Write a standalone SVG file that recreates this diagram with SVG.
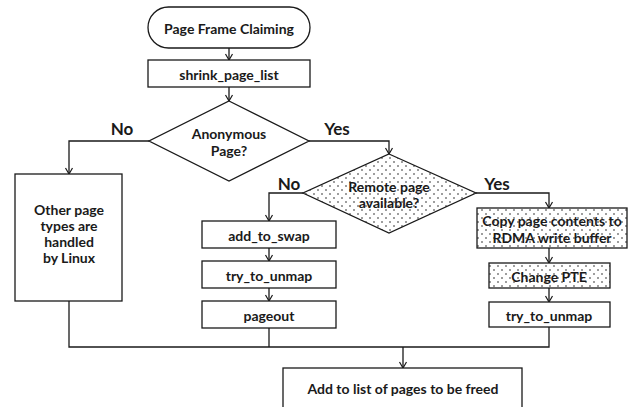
<svg xmlns="http://www.w3.org/2000/svg" width="636" height="407" viewBox="0 0 636 407">
<style>
.box{fill:#fff;stroke:#1a1a1a;stroke-width:1.3}
.dot{fill:url(#dots);stroke:#1a1a1a;stroke-width:1.3}
.t{font-family:Lato,"Open Sans","Liberation Sans",sans-serif;font-weight:bold;font-size:14px;fill:#1a1a1a;text-anchor:middle;dominant-baseline:central}
.lab{font-family:Lato,"Open Sans","Liberation Sans",sans-serif;font-weight:bold;font-size:17px;fill:#1a1a1a;text-anchor:middle;dominant-baseline:central}
.c{fill:none;stroke:#1a1a1a;stroke-width:1.3}
</style>
<defs>
<pattern id="dots" width="8" height="8" patternUnits="userSpaceOnUse">
<rect width="8" height="8" fill="#fff"/>
<circle cx="2" cy="2" r="0.8" fill="#222"/>
<circle cx="6" cy="6" r="0.8" fill="#222"/>
</pattern>
<marker id="arr" markerWidth="10" markerHeight="10" refX="9" refY="5" orient="auto" markerUnits="userSpaceOnUse">
<polyline points="3,1.5 9,5 3,8.5" fill="none" stroke="#1a1a1a" stroke-width="1.2"/>
</marker>
</defs>
<rect width="636" height="407" fill="#fff"/>
<g id="connectors">
<line class="c" x1="229" y1="48" x2="229" y2="60" marker-end="url(#arr)"/>
<line class="c" x1="229" y1="87" x2="229" y2="101" marker-end="url(#arr)"/>
<polyline class="c" points="149,141 69,141 69,174" marker-end="url(#arr)"/>
<polyline class="c" points="309,141 389,141 389,154" marker-end="url(#arr)"/>
<polyline class="c" points="303,193 269,193 269,221" marker-end="url(#arr)"/>
<polyline class="c" points="476,193 549,193 549,208" marker-end="url(#arr)"/>
<line class="c" x1="269" y1="248" x2="269" y2="261" marker-end="url(#arr)"/>
<line class="c" x1="269" y1="288" x2="269" y2="301" marker-end="url(#arr)"/>
<line class="c" x1="549" y1="248" x2="549" y2="263" marker-end="url(#arr)"/>
<line class="c" x1="549" y1="288" x2="549" y2="302" marker-end="url(#arr)"/>
<polyline class="c" points="69,301 69,347 549,347 549,327"/>
<line class="c" x1="269" y1="328" x2="269" y2="347"/>
<line class="c" x1="403" y1="347" x2="403" y2="368" marker-end="url(#arr)"/>
<text class="lab" x="122" y="128">No</text>
<text class="lab" x="337" y="128">Yes</text>
<text class="lab" x="289" y="183">No</text>
<text class="lab" x="497" y="183">Yes</text>
</g>
<g id="start">
<rect class="box" x="148" y="7" width="162" height="41" rx="20.5"/>
<text class="t" x="229" y="28">Page Frame Claiming</text>
</g>
<g id="shrink">
<rect class="box" x="148" y="60" width="162" height="27"/>
<text class="t" x="229" y="74">shrink_page_list</text>
</g>
<g id="anon">
<polygon class="box" points="229,101 309,141 229,181 149,141"/>
<text class="t" x="229" y="133">Anonymous</text>
<text class="t" x="229" y="150">Page?</text>
</g>
<g id="other">
<rect class="box" x="15" y="174" width="107" height="127"/>
<text class="t" x="69" y="209">Other page</text>
<text class="t" x="69" y="225">types are</text>
<text class="t" x="69" y="241">handled</text>
<text class="t" x="69" y="257">by Linux</text>
</g>
<g id="remote">
<polygon class="dot" points="389,154 476,193 389,233 303,193"/>
<text class="t" x="389" y="186">Remote page</text>
<text class="t" x="389" y="202">available?</text>
</g>
<g id="addswap">
<rect class="box" x="202" y="221" width="134" height="27"/>
<text class="t" x="269" y="235">add_to_swap</text>
</g>
<g id="unmap1">
<rect class="box" x="202" y="261" width="134" height="27"/>
<text class="t" x="269" y="275">try_to_unmap</text>
</g>
<g id="pageout">
<rect class="box" x="202" y="301" width="134" height="27"/>
<text class="t" x="269" y="315">pageout</text>
</g>
<g id="copy">
<rect class="dot" x="477" y="208" width="150" height="40"/>
<text class="t" x="552" y="220">Copy page contents to</text>
<text class="t" x="552" y="237">RDMA write buffer</text>
</g>
<g id="pte">
<rect class="dot" x="489" y="263" width="121" height="25"/>
<text class="t" x="549" y="276">Change PTE</text>
</g>
<g id="unmap2">
<rect class="box" x="489" y="302" width="121" height="25"/>
<text class="t" x="549" y="315">try_to_unmap</text>
</g>
<g id="free">
<rect class="box" x="283" y="368" width="239" height="50"/>
<text class="t" x="403" y="388">Add to list of pages to be freed</text>
</g>
</svg>
